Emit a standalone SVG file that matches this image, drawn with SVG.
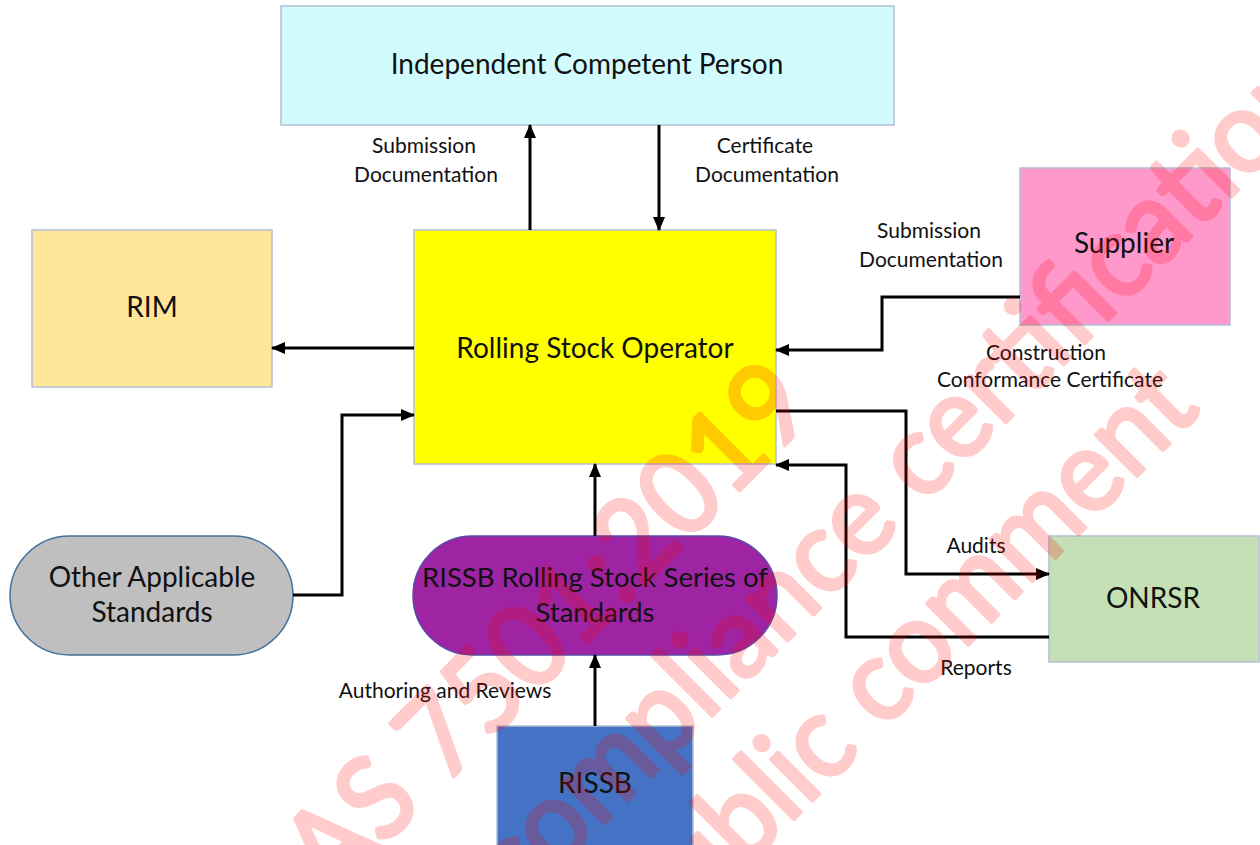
<svg xmlns="http://www.w3.org/2000/svg" width="1260" height="845" viewBox="0 0 1260 845">
<defs>
<marker id="ah" markerUnits="userSpaceOnUse" markerWidth="14" markerHeight="14" viewBox="0 0 14 14" refX="13" refY="7" orient="auto">
<path d="M0,1 L14,7 L0,13 z" fill="#000"/>
</marker>
<style>
.box{stroke:#b3bfd4;stroke-width:1.5}
.t{font-family:Lato,"Open Sans",sans-serif;fill:#111;text-anchor:middle}
.big{font-size:28px}
.mid{font-size:27.5px}
.lbl{font-size:21px}
.c{fill:none;stroke:#000;stroke-width:3;marker-end:url(#ah)}
.wm{font-family:Lato,"Open Sans",sans-serif;font-size:115px;fill:#ff0000;stroke:#ff0000;stroke-width:4;stroke-linejoin:round;text-anchor:middle}
</style>
</defs>
<rect width="1260" height="845" fill="#fff"/>

<g id="icp">
<rect class="box" x="281" y="6" width="613" height="119" fill="#d2fbfd"/>
<text class="t big" x="587" y="74">Independent Competent Person</text>
</g>
<g id="rso">
<rect class="box" x="414" y="230" width="362" height="234" fill="#ffff00"/>
<text class="t big" x="595" y="358">Rolling Stock Operator</text>
</g>
<g id="rim">
<rect class="box" x="32" y="230" width="240" height="157" fill="#ffe699"/>
<text class="t big" x="152" y="317">RIM</text>
</g>
<g id="supplier">
<rect class="box" x="1020" y="168" width="210" height="157" fill="#ff99cc"/>
<text class="t big" x="1124" y="253">Supplier</text>
</g>
<g id="onrsr">
<rect class="box" x="1049" y="536" width="210" height="126" fill="#c5e0b4"/>
<text class="t big" x="1153" y="608">ONRSR</text>
</g>
<g id="other">
<rect x="10" y="536" width="283" height="119" rx="59.5" fill="#bfbfbf" stroke="#41719c" stroke-width="1.5"/>
<text class="t big" x="152" y="587">Other Applicable</text>
<text class="t big" x="152" y="622">Standards</text>
</g>
<g id="series">
<rect x="413" y="536" width="364" height="119" rx="59.5" fill="#9e24a3" stroke="#5a4aa6" stroke-width="1.5"/>
<text class="t mid" x="595" y="587">RISSB Rolling Stock Series of</text>
<text class="t mid" x="595" y="622">Standards</text>
</g>
<g id="rissb">
<rect class="box" x="497" y="726" width="196" height="130" fill="#4472c4"/>
<text class="t big" x="595" y="793">RISSB</text>
</g>

<g id="connectors">
<path class="c" d="M530,230 V125"/>
<path class="c" d="M659,125 V230"/>
<path class="c" d="M414,348 H272"/>
<path class="c" d="M1020,297 H882 V350 H776"/>
<path class="c" d="M293,595 H342 V415 H414"/>
<path class="c" d="M595,536 V464"/>
<path class="c" d="M595,726 V655"/>
<path class="c" d="M776,411 H906 V574 H1049"/>
<path class="c" d="M1049,637 H846 V465 H776"/>
</g>

<g id="labels">
<text class="t lbl" x="424" y="153">Submission</text>
<text class="t lbl" x="426" y="182">Documentation</text>
<text class="t lbl" x="765" y="153">Certificate</text>
<text class="t lbl" x="767" y="182">Documentation</text>
<text class="t lbl" x="929" y="238">Submission</text>
<text class="t lbl" x="931" y="267">Documentation</text>
<text class="t lbl" x="1046" y="360">Construction</text>
<text class="t lbl" x="1050" y="387">Conformance Certificate</text>
<text class="t lbl" x="976" y="553">Audits</text>
<text class="t lbl" x="976" y="675">Reports</text>
<text class="t lbl" x="445" y="698">Authoring and Reviews</text>
</g>

<g id="watermark" opacity="0.2">
<text class="wm" transform="translate(575,655) rotate(-45)" textLength="690" lengthAdjust="spacingAndGlyphs">AS 7501:2019</text>
<text class="wm" transform="translate(925,503) rotate(-45)" textLength="1150" lengthAdjust="spacingAndGlyphs">compliance certification</text>
<text class="wm" transform="translate(930,683) rotate(-45)" textLength="770" lengthAdjust="spacingAndGlyphs">public comment</text>
</g>
</svg>
